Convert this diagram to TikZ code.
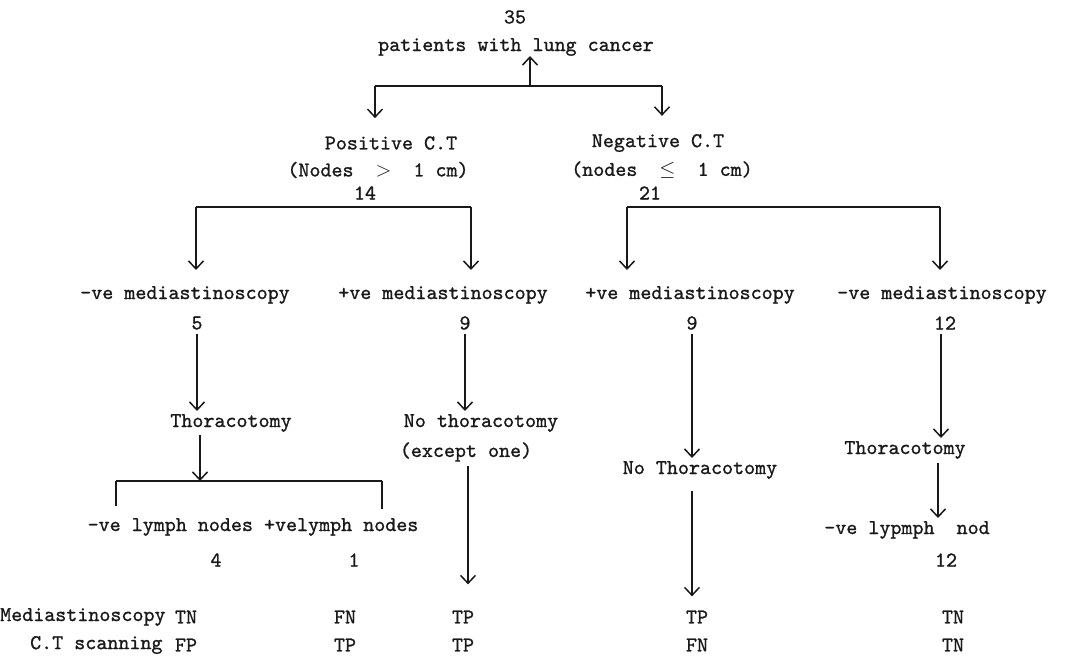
\documentclass[tikz,border=0pt]{standalone}
\usepackage{fontspec}
\setmonofont{lmmono10-regular.otf}[FakeBold=1.0]
\usetikzlibrary{arrows.meta}
\begin{document}
\begin{tikzpicture}[x=1pt,y=-1pt,
  txt/.style={font=\ttfamily\fontsize{21}{24}\selectfont, inner sep=0pt, text=black!90},
  ln/.style={line width=1.5pt, black!90},
  arr/.style={line width=1.5pt, black!90, -{Straight Barb[length=8pt,width=15pt,line width=1.5pt]}}]
\useasboundingbox[fill=white] (0,0) rectangle (1071,658);

% top
\node[txt] (n35) at (515,17) {35};
\node[txt] (top) at (516,47) {patients with lung cancer};
\coordinate (tj) at (530,86);
\coordinate (tl) at (375,86);
\coordinate (tr) at (662,86);
\draw[ln] (tl) -- (tr);
\draw[arr] (tj) -- (tj |- top.south);

% level 1
\node[txt] (posCT) at (391,143) {Positive C.T};
\node[txt] (posN) at (378,170) {(Nodes\ \ $>$\ \ 1 cm)};
\node[txt] (n14) at (365,193) {14};
\node[txt] (negCT) at (658,143) {Negative C.T};
\node[txt] (negN) at (662,170) {(nodes\ \ $\leq$\ \ 1 cm)};
\node[txt] (n21) at (650,193) {21};
\draw[arr, shorten >=18pt] (tl) -- (tl |- posCT.north);
\draw[arr, shorten >=18pt] (tr) -- (tr |- negCT.north);

% level 2
\node[txt] (mNegL) at (185,295) {-ve mediastinoscopy};
\node[txt] (mPosL) at (443,295) {+ve mediastinoscopy};
\node[txt] (mPosR) at (690,295) {+ve mediastinoscopy};
\node[txt] (mNegR) at (942,295) {-ve mediastinoscopy};
\node[txt] (n5) at (197,323) {5};
\node[txt] (n9L) at (465,323) {9};
\node[txt] (n9R) at (692,323) {9};
\node[txt] (n12) at (945,323) {12};

\coordinate (la) at (196,207);
\coordinate (lb) at (471,207);
\coordinate (ra) at (627,207);
\coordinate (rb) at (940,207);
\draw[ln] (la) -- (lb);
\draw[ln] (ra) -- (rb);
\draw[arr, shorten >=16pt] (la) -- (la |- mNegL.north);
\draw[arr, shorten >=16pt] (lb) -- (lb |- mPosL.north);
\draw[arr, shorten >=16pt] (ra) -- (ra |- mPosR.north);
\draw[arr, shorten >=16pt] (rb) -- (rb |- mNegR.north);

% level 3
\node[txt] (thorL) at (231,423) {Thoracotomy};
\node[txt] (noThor) at (481,423) {No thoracotomy};
\node[txt] (except) at (466,452) {(except one)};
\node[txt] (noThorR) at (700,470) {No Thoracotomy};
\node[txt] (thorR) at (905,450) {Thoracotomy};
\draw[arr, shorten <=4pt, shorten >=3pt] (n5.south) -- (n5.south |- thorL.north);
\draw[arr, shorten <=4pt, shorten >=3pt] (n9L.south) -- (n9L.south |- noThor.north);
\draw[arr, shorten <=4pt, shorten >=3pt] (n9R.south) -- (n9R.south |- noThorR.north);
\draw[arr, shorten <=4pt, shorten >=3pt] (n12.south -| 941,0) -- (941,0 |- thorR.north);

% level 4
\coordinate (bj) at (200,481);
\coordinate (bl) at (116,481);
\coordinate (br) at (382,481);
\node[txt] (lymph) at (253,527) {-ve lymph nodes +velymph nodes};
\node[txt] (n4) at (216,560) {4};
\node[txt] (n1) at (354,560) {1};
\node[txt] (lymphR) at (907,530) {-ve lypmph\ \ nod};
\node[txt] (n12b) at (946,560) {12};
\draw[arr, shorten <=3pt] (thorL.south -| bj) -- (bj);
\draw[ln] (bl) -- (br);
\draw[ln] (bl) -- (116,506);
\draw[ln] (br) -- (382,509);

% level 5
\node[txt, anchor=west] (medLab) at (0,617) {Mediastinoscopy};
\node[txt, anchor=west] (ctLab) at (30,645) {C.T scanning};
\node[txt] (a1) at (186,617) {TN};
\node[txt] (a2) at (345,617) {FN};
\node[txt] (a3) at (463,617) {TP};
\node[txt] (a4) at (697,617) {TP};
\node[txt] (a5) at (953,617) {TN};
\node[txt] (b1) at (186,645) {FP};
\node[txt] (b2) at (345,645) {TP};
\node[txt] (b3) at (463,645) {TP};
\node[txt] (b4) at (697,645) {FN};
\node[txt] (b5) at (953,645) {TN};

\draw[arr, shorten <=4pt, shorten >=26pt] (except.south -| 468,0) -- (468,0 |- a3.north);
\draw[arr, shorten <=12pt, shorten >=14pt] (noThorR.south -| n9R) -- (n9R |- a4.north);
\draw[arr, shorten <=4pt, shorten >=3pt] (thorR.south -| 938,0) -- (938,0 |- lymphR.north);
\end{tikzpicture}
\end{document}
